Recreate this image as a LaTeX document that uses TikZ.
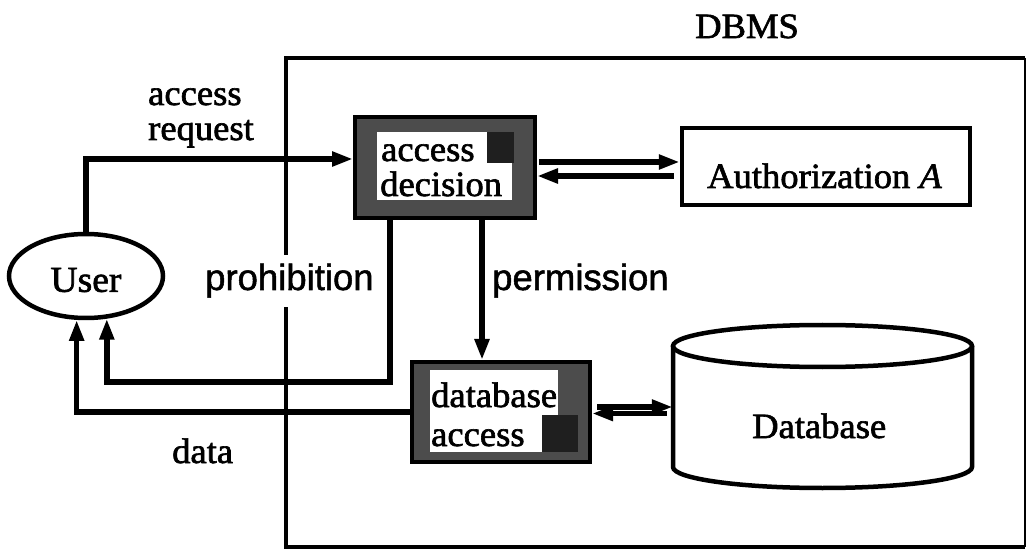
\documentclass[tikz,border=0pt]{standalone}
\usepackage{fontspec}
\setmainfont{Liberation Serif}[FakeStretch=1.03,FakeBold=1.8]
\setsansfont{Liberation Sans}[FakeBold=1.4]
\usetikzlibrary{arrows.meta,calc,shapes.geometric}

\begin{document}
\begin{tikzpicture}[x=1pt,y=-1pt,
  arr/.style={line width=5.5pt,-{Triangle[length=21pt,width=14pt]}},
  frameline/.style={line width=4.5pt},
  procbox/.style={draw=black,line width=4pt,fill=black!70,inner sep=0pt},
  plainbox/.style={draw=black,line width=4.5pt,inner sep=0pt},
  darkpart/.style={fill=black!88},
  paper/.style={fill=white},
  lbl/.style={inner sep=0pt,anchor=base west,font=\fontsize{35.5}{40}\selectfont},
  slbl/.style={inner sep=0pt,anchor=base west,font=\sffamily\fontsize{36.5}{42}\selectfont},
]
\useasboundingbox (0,0) rectangle (1029,556);

% DBMS boundary
\node[inner sep=0pt,minimum width=739pt,minimum height=489pt] (dbms) at (655.5,302.5) {};
\draw[frameline] (dbms.north east) -- (dbms.north west) -- (dbms.south west) -- (dbms.south east);
\draw[line width=1.5pt] (dbms.north east) -- (dbms.south east);
\node[lbl] (dbmsname) at (695,38) {DBMS};

% user
\node[draw,ellipse,line width=4.5pt,minimum width=154pt,minimum height=84pt,
      inner sep=0pt,text height=32pt,font=\fontsize{36.5}{40}\selectfont] (user) at (86,276) {User};

% access decision process
\node[procbox,minimum width=180pt,minimum height=101pt] (adec) at (445,167.5) {};
\fill[darkpart] (487,132) rectangle (514,163);
\fill[paper] (377,132) rectangle (487,163);
\fill[paper] (377,163) rectangle (512,200);
\node[lbl] (adec1) at (381,161) {access};
\node[lbl] (adec2) at (380,196) {decision};

% database access process
\node[procbox,minimum width=178pt,minimum height=100pt] (dbacc) at (501,412) {};
\fill[darkpart] (542,415) rectangle (578,452);
\fill[paper] (430,370) rectangle (558,415);
\fill[paper] (430,415) rectangle (542,452);
\node[lbl] (dbacc1) at (431,407) {database};
\node[lbl] (dbacc2) at (431,446) {access};

% authorization
\node[plainbox,minimum width=288pt,minimum height=77pt] (auth) at (826,166.5) {};
\node[lbl] (authtext) at (707,188) {Authorization \textit{A}};

% database store
\node[inner sep=0pt,minimum width=299pt,minimum height=163pt] (db) at (822.5,406.5) {};
\draw[frameline] (822.5,346) ellipse [x radius=149.5, y radius=21];
\draw[frameline] (673,346) -- (673,467) arc[start angle=180,end angle=0,x radius=149.5,y radius=21] -- (972,346);
\node[lbl] (dbtext) at (752,438) {Database};

% request from the user
\coordinate (r0) at ($(adec.west)+(0,-8.5)$);
\draw[arr] (user.north) |- (r0);
\node[lbl] (req1) at (148,105) {access};
\node[lbl] (req2) at (148,140) {request};

% decision <-> authorization
\coordinate (a1) at ($(adec.east)+(2,-5.5)$);
\draw[arr] (a1) -- (a1 -| auth.west);
\coordinate (a2) at ($(auth.west)+(-6,9.5)$);
\draw[arr] (a2) -- (a2 -| adec.east);

% permission
\coordinate (m0) at ($(adec.south)+(37,0)$);
\draw[arr] (m0) -- (m0 |- dbacc.north);
\node[slbl] (perm) at (492,290) {permission};

% prohibition back to the user
\coordinate (p0) at ($(adec.south west)+(37,0)$);
\draw[arr] (p0) -- ++(0,162) -| (user.-64);
\node[slbl,fill=white,inner ysep=9pt] (prohib) at (205,290) {prohibition};

% data back to the user
\draw[arr] (dbacc.west) -| (user.-102);
\node[lbl] (datalbl) at (172,463) {data};

% database access <-> database
\coordinate (d1) at ($(dbacc.east)+(5,-5)$);
\draw[arr] (d1) -- (d1 -| db.west);
\coordinate (d2) at ($(db.west)+(-6,7)$);
\draw[arr] (d2) -- (d2 -| dbacc.east);
\end{tikzpicture}
\end{document}
